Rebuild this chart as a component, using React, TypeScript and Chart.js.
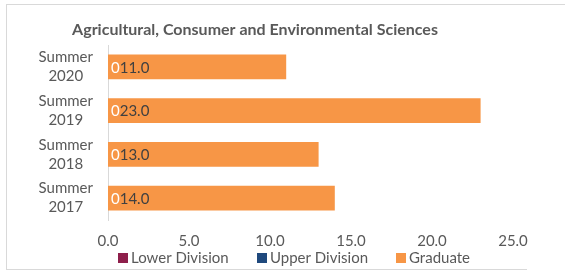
import React, { useEffect, useRef } from "react";
import { Chart, registerables } from "chart.js";

Chart.register(...registerables);

const categories: string[][] = [
  ["Summer", "2020"],
  ["Summer", "2019"],
  ["Summer", "2018"],
  ["Summer", "2017"],
];
const lowerDivision: number[] = [0, 0, 0, 0];
const upperDivision: number[] = [0, 0, 0, 0];
const graduate: number[] = [11, 23, 13, 14];
const xMin = 0;
const xMax = 25;
const xStep = 5;
const titleText = "Agricultural, Consumer and Environmental Sciences";
const seriesNames = ["Lower Division", "Upper Division", "Graduate"];
const seriesColors = ["#8E1F4B", "#1F497D", "#F79646"];

const FONT = "Lato, 'Open Sans', sans-serif";
const TEXT = "#595959";

const overlayPlugin = {
  id: "overlay",
  afterDatasetsDraw(chart: any) {
    const ctx = chart.ctx as CanvasRenderingContext2D;
    ctx.save();
    // data labels
    ctx.font = `15px ${FONT}`;
    ctx.textBaseline = "middle";
    ctx.textAlign = "left";
    const zeroW = ctx.measureText("0").width;
    chart.data.datasets.forEach((ds: any, di: number) => {
      const meta = chart.getDatasetMeta(di);
      meta.data.forEach((el: any, i: number) => {
        const v = ds.data[i];
        const base = el.base;
        if (di < 2) {
          if (di === 0) {
            ctx.fillStyle = "#ffffff";
            ctx.fillText(String(v), base + 3, el.y + 1);
          }
        } else {
          ctx.fillStyle = "#404040";
          ctx.fillText(v.toFixed(1), base + 3 + zeroW, el.y + 1);
        }
      });
    });
    // title
    ctx.font = `bold 16px ${FONT}`;
    ctx.fillStyle = TEXT;
    ctx.textAlign = "center";
    ctx.textBaseline = "alphabetic";
    ctx.fillText(titleText, 255, 35);
    // legend
    ctx.font = `15px ${FONT}`;
    ctx.textAlign = "left";
    ctx.textBaseline = "middle";
    const legendX = [118, 257, 396];
    seriesNames.forEach((name, i) => {
      ctx.fillStyle = seriesColors[i];
      ctx.fillRect(legendX[i], 253, 10, 10);
      ctx.fillStyle = TEXT;
      ctx.fillText(name, legendX[i] + 13, 258);
    });
    ctx.restore();
  },
};

export default function App() {
  const ref = useRef<HTMLCanvasElement | null>(null);
  useEffect(() => {
    if (!ref.current) return;
    const chart = new Chart(ref.current, {
      type: "bar",
      data: {
        labels: categories,
        datasets: [
          { label: seriesNames[0], data: lowerDivision, backgroundColor: seriesColors[0] },
          { label: seriesNames[1], data: upperDivision, backgroundColor: seriesColors[1] },
          { label: seriesNames[2], data: graduate, backgroundColor: seriesColors[2] },
        ],
      },
      options: {
        indexAxis: "y",
        responsive: false,
        animation: false,
        maintainAspectRatio: false,
        layout: { padding: { left: 0, right: 52, top: 45, bottom: 21 } },
        datasets: { bar: { categoryPercentage: 0.57, barPercentage: 1 } },
        plugins: {
          legend: { display: false },
          title: { display: false },
          tooltip: { enabled: false },
        },
        scales: {
          x: {
            stacked: true,
            min: xMin,
            max: xMax,
            afterFit: (s: any) => {
              s.height = 30;
            },
            grid: { display: false, drawTicks: false },
            border: { display: false },
            ticks: {
              stepSize: xStep,
              padding: 12,
              maxRotation: 0,
              color: TEXT,
              font: { family: FONT, size: 15, lineHeight: 1.2 },
              callback: (v: any) => Number(v).toFixed(1),
            },
          },
          y: {
            stacked: true,
            afterFit: (s: any) => {
              s.width = 108;
            },
            grid: { display: false, drawTicks: false },
            border: { display: true, color: "#d9d9d9", width: 1 },
            ticks: {
              autoSkip: false,
              crossAlign: "center",
              padding: 15,
              color: TEXT,
              font: { family: FONT, size: 15, lineHeight: 1.27 },
            },
          },
        },
      },
      plugins: [overlayPlugin],
    } as any);
    return () => chart.destroy();
  }, []);
  return (
    <div style={{ position: "fixed", left: 0, top: 0, width: 565, height: 271, background: "#fff" }}>
      <canvas ref={ref} width={565} height={271} style={{ position: "absolute", left: 0, top: 0 }} />
      <div style={{ position: "absolute", left: 6, top: 4, width: 559, height: 1, background: "#d9d9d9" }} />
      <div style={{ position: "absolute", left: 6, top: 4, width: 1, height: 266, background: "#d9d9d9" }} />
      <div style={{ position: "absolute", left: 6, top: 269, width: 521, height: 1, background: "#d9d9d9" }} />
    </div>
  );
}
